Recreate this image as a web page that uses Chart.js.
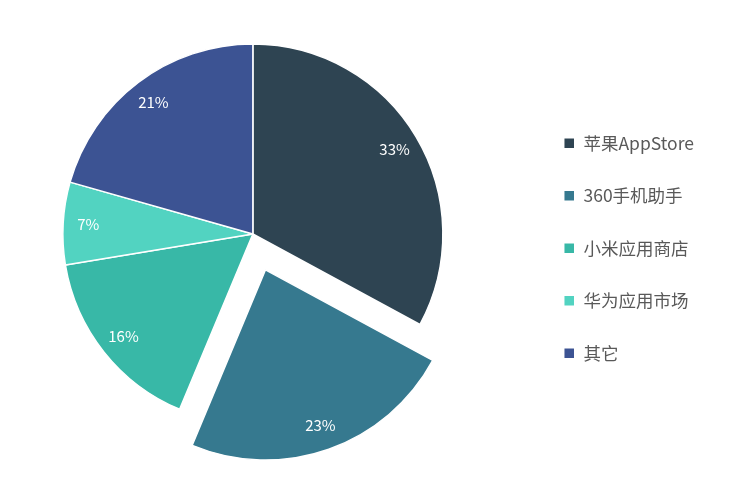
<!DOCTYPE html>
<html>
<head>
<meta charset="utf-8">
<script src="https://cdn.jsdelivr.net/npm/chart.js@4.4.1/dist/chart.umd.min.js"></script>
<style>
  html, body { margin: 0; padding: 0; background: #fff; overflow: hidden; }
  /* canvas runs 40px past the left edge so the pie can sit left of the layout centre */
  #wrap { width: 795px; height: 497px; margin-left: -40px; }
</style>
</head>
<body>
<div id="wrap"><canvas id="chart"></canvas></div>
<script>
const labels = ['苹果AppStore', '360手机助手', '小米应用商店', '华为应用市场', '其它']
// shares; the labels show them rounded
const shares = [32.9, 23.4, 16.1, 7.0, 20.6]
const colors = ['#2e4452', '#36798f', '#38b8a7', '#52d3c1', '#3c5393']
// Chart.js moves an arc by offset / 4, so 152 gives the ~38px pull-out
const offsets = [0, 152, 0, 0, 0]

const FONT = '"Noto Sans CJK SC", "Noto Sans", sans-serif'

// percent labels inside each slice
const sliceLabels = {
    id: 'sliceLabels',
    afterDatasetsDraw(chart) {
        const { ctx } = chart
        const meta = chart.getDatasetMeta(0)
        ctx.save()
        ctx.fillStyle = '#ffffff'
        ctx.font = '15px ' + FONT
        ctx.textAlign = 'center'
        ctx.textBaseline = 'middle'
        meta.data.forEach((arc, i) => {
            const { x, y, startAngle, endAngle, outerRadius } = arc.getProps(['x', 'y', 'startAngle', 'endAngle', 'outerRadius'], true)
            const mid = (startAngle + endAngle) / 2
            const r = outerRadius * 0.868 + (arc.options.offset || 0) / 4
            ctx.fillText(Math.round(shares[i]) + '%', x + Math.cos(mid) * r, y + Math.sin(mid) * r)
        })
        ctx.restore()
    }
}

new Chart(document.getElementById('chart'), {
    type: 'pie',
    data: {
        labels: labels,
        datasets: [{
            data: shares,
            backgroundColor: colors,
            borderColor: '#ffffff',
            borderWidth: 1.5,
            offset: offsets,
            radius: 190,
            clip: false
        }]
    },
    options: {
        responsive: true,
        maintainAspectRatio: false,
        animation: false,
        layout: { padding: { left: 17, right: 51, top: 71, bottom: 100 } },
        plugins: {
            tooltip: { enabled: false },
            legend: {
                position: 'right',
                align: 'end',
                labels: {
                    boxWidth: 11,
                    boxHeight: 11,
                    padding: 35,
                    color: '#595959',
                    font: { size: 17.5, family: FONT }
                }
            }
        }
    },
    plugins: [sliceLabels]
})
</script>
</body>
</html>
